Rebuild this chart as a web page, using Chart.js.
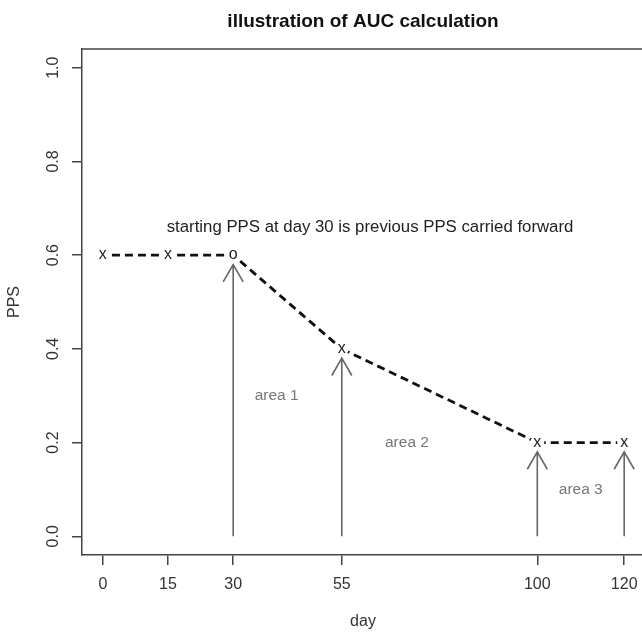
<!DOCTYPE html>
<html>
<head>
<meta charset="utf-8">
<title>illustration of AUC calculation</title>
<script src="https://cdn.jsdelivr.net/npm/chart.js@4.4.1/dist/chart.umd.min.js"></script>
<style>
html, body { margin: 0; padding: 0; background: #fff; }
#wrap { width: 642px; height: 632px; }
</style>
</head>
<body>
<div id="wrap"><canvas id="auc" width="642" height="632"></canvas></div>
<script>
// data
var days = [0, 15, 30, 55, 100, 120];
var pps = [0.6, 0.6, 0.6, 0.4, 0.2, 0.2];
var markers = ['x', 'x', 'o', 'x', 'x', 'x'];

var arrowDays = [30, 55, 100, 120];
var arrowTops = [0.58, 0.38, 0.18, 0.18];

var xTicks = [0, 15, 30, 55, 100, 120];
var yTicks = [0.0, 0.2, 0.4, 0.6, 0.8, 1.0];
var yTickLabels = ['0.0', '0.2', '0.4', '0.6', '0.8', '1.0'];

var areaLabels = ['area 1', 'area 2', 'area 3'];
var areaDays = [40, 70, 110];
var areaPps = [0.3, 0.2, 0.1];

var noteText = 'starting PPS at day 30 is previous PPS carried forward';
var noteDay = 61.5;
var notePps = 0.66;

var FONT = '"Liberation Sans", Arial, Helvetica, sans-serif';
var AXIS_COLOR = '#444';
var DASH = 8, GAP = 5, GAP_R = 7;   // dash pattern and blank radius round each point

var points = days.map(function(d, i) { return { x: d, y: pps[i] }; });

// each segment starts its own dash pattern, centred between the two markers (like R type = "b")
function segOffset(c) {
    var period = DASH + GAP;
    var len = Math.hypot(c.p1.x - c.p0.x, c.p1.y - c.p0.y);
    var L = len - 2 * GAP_R;
    var n = Math.max(1, Math.floor((L + GAP) / period));
    var start = GAP_R + (L - (n * period - GAP)) / 2;
    var off = (period - (start % period)) % period;
    return off + period * c.p0DataIndex; // different value per segment so they are stroked apart
}

// R style extras: box, tick labels, markers, arrows, texts
var rPlot = {
    id: 'rPlot',
    afterDatasetsDraw: function(chart) {
        var ctx = chart.ctx;
        var xs = chart.scales.x;
        var ys = chart.scales.y;
        var area = chart.chartArea;
        ctx.save();

        // top of the box
        ctx.strokeStyle = AXIS_COLOR;
        ctx.lineWidth = 1.5;
        ctx.beginPath();
        ctx.moveTo(area.left, area.top);
        ctx.lineTo(area.right, area.top);
        ctx.stroke();

        // markers
        days.forEach(function(d, i) {
            var px = xs.getPixelForValue(d);
            var py = ys.getPixelForValue(pps[i]);
            ctx.fillStyle = '#fff';
            ctx.beginPath();
            ctx.arc(px, py, GAP_R, 0, Math.PI * 2);
            ctx.fill();
            ctx.fillStyle = '#222';
            ctx.font = '16px ' + FONT;
            ctx.textAlign = 'center';
            ctx.textBaseline = 'alphabetic';
            ctx.fillText(markers[i], px, py + 4);
        });

        // arrows
        ctx.strokeStyle = '#666';
        ctx.lineWidth = 1.6;
        arrowDays.forEach(function(d, i) {
            var px = xs.getPixelForValue(d);
            var y0 = ys.getPixelForValue(0);
            var ty = ys.getPixelForValue(arrowTops[i]);
            ctx.beginPath();
            ctx.moveTo(px, y0);
            ctx.lineTo(px, ty);
            ctx.moveTo(px - 10, ty + 17.3);
            ctx.lineTo(px, ty);
            ctx.lineTo(px + 10, ty + 17.3);
            ctx.stroke();
        });

        // area labels
        ctx.fillStyle = '#777';
        ctx.font = '15.5px ' + FONT;
        ctx.textAlign = 'center';
        ctx.textBaseline = 'middle';
        areaLabels.forEach(function(t, i) {
            ctx.fillText(t, xs.getPixelForValue(areaDays[i]), ys.getPixelForValue(areaPps[i]));
        });

        // note
        ctx.fillStyle = '#222';
        ctx.font = '16.8px ' + FONT;
        ctx.fillText(noteText, xs.getPixelForValue(noteDay), ys.getPixelForValue(notePps));

        // tick labels
        ctx.fillStyle = '#333';
        ctx.font = '16px ' + FONT;
        xTicks.forEach(function(v) {
            ctx.fillText(String(v), xs.getPixelForValue(v), 585);
        });
        yTicks.forEach(function(v, i) {
            ctx.save();
            ctx.translate(54, ys.getPixelForValue(v));
            ctx.rotate(-Math.PI / 2);
            ctx.fillText(yTickLabels[i], 0, 0);
            ctx.restore();
        });

        // axis titles
        ctx.fillText('day', 363, 622);
        ctx.save();
        ctx.translate(15, (area.top + area.bottom) / 2);
        ctx.rotate(-Math.PI / 2);
        ctx.fillText('PPS', 0, 0);
        ctx.restore();

        // main title
        ctx.fillStyle = '#111';
        ctx.font = 'bold 19px ' + FONT;
        ctx.fillText('illustration of AUC calculation', 363, 22);

        ctx.restore();
    }
};

document.addEventListener('DOMContentLoaded', function() {
    var ctx = document.getElementById('auc').getContext('2d');

    new Chart(ctx, {
        type: 'line',
        data: {
            datasets: [{
                label: 'PPS',
                data: points,
                borderColor: '#111',
                borderWidth: 2.8,
                borderDash: [DASH, GAP],
                pointRadius: 0,
                tension: 0,
                fill: false,
                segment: {
                    borderDash: function() { return [DASH, GAP]; },
                    borderDashOffset: segOffset
                }
            }]
        },
        options: {
            responsive: false,
            animation: false,
            devicePixelRatio: 1,
            layout: { padding: { top: 49, left: 0, right: 0, bottom: 0 } },
            plugins: {
                legend: { display: false },
                title: { display: false },
                tooltip: { enabled: false }
            },
            scales: {
                x: {
                    type: 'linear',
                    min: -4.8,
                    max: 124.1,
                    afterBuildTicks: function(scale) {
                        scale.ticks = xTicks.map(function(v) { return { value: v }; });
                    },
                    afterFit: function(scale) { scale.height = 77; },
                    ticks: { display: false },
                    grid: {
                        display: true,
                        drawOnChartArea: false,
                        drawTicks: true,
                        tickLength: 10,
                        color: AXIS_COLOR,
                        lineWidth: 1.5
                    },
                    border: { display: true, color: AXIS_COLOR, width: 1.5 }
                },
                y: {
                    type: 'linear',
                    min: -0.04,
                    max: 1.04,
                    afterBuildTicks: function(scale) {
                        scale.ticks = yTicks.map(function(v) { return { value: v }; });
                    },
                    afterFit: function(scale) { scale.width = 82; },
                    ticks: { display: false },
                    grid: {
                        display: true,
                        drawOnChartArea: false,
                        drawTicks: true,
                        tickLength: 10,
                        color: AXIS_COLOR,
                        lineWidth: 1.5
                    },
                    border: { display: true, color: AXIS_COLOR, width: 1.5 }
                }
            }
        },
        plugins: [rPlot]
    });
});
</script>
</body>
</html>
